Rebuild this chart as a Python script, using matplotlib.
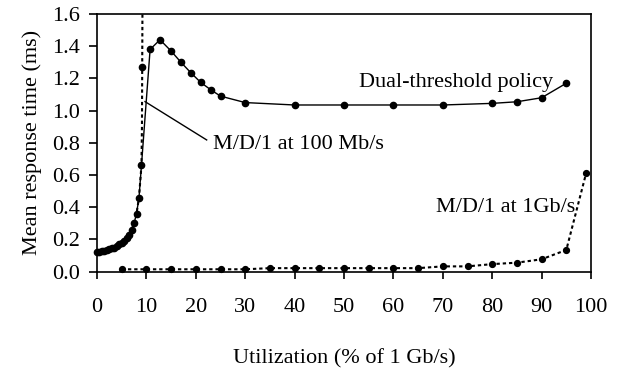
import matplotlib.pyplot as plt
import numpy as np

plt.rcParams['font.family'] = ['Liberation Serif', 'DejaVu Serif']
plt.rcParams['font.size'] = 16

# Dual-threshold policy (simulated)
dual_x = [0, 0.5, 1, 1.5, 2, 2.5, 3, 3.5, 4, 4.5, 5, 5.5, 6, 6.5, 7, 7.5, 8, 8.5, 9,
          10.75, 12.75, 15, 17, 19, 21, 23, 25, 30, 40, 50, 60, 70, 80, 85, 90, 95]
dual_y = [0.12, 0.123, 0.127, 0.13, 0.135, 0.14, 0.145, 0.15, 0.16, 0.17, 0.18, 0.19,
          0.21, 0.23, 0.26, 0.30, 0.36, 0.46, 0.66,
          1.38, 1.44, 1.37, 1.30, 1.235, 1.175, 1.13, 1.09, 1.05,
          1.035, 1.035, 1.035, 1.035, 1.045, 1.055, 1.08, 1.17]

# M/D/1 at 100 Mb/s
md100_x = [0, 1, 2, 3, 4, 5, 6, 7, 7.5, 8, 8.5, 9, 9.1, 9.15, 9.2]
md100_y = [0.12, 0.127, 0.135, 0.146, 0.16, 0.18, 0.21, 0.26, 0.30, 0.36, 0.46,
           0.66, 0.90, 1.27, 1.62]

# M/D/1 at 1 Gb/s
md1g_x = [5, 10, 15, 20, 25, 30, 35, 40, 45, 50, 55, 60, 65, 70, 75, 80, 85, 90, 95, 99]
md1g_y = [0.015, 0.015, 0.015, 0.015, 0.015, 0.015, 0.022, 0.022, 0.022, 0.022,
          0.022, 0.022, 0.022, 0.033, 0.033, 0.047, 0.056, 0.077, 0.135, 0.61]

x_ticks = np.arange(0, 101, 10)
y_ticks = np.arange(0, 1.61, 0.2)


def main():
    fig = plt.figure(figsize=(6.21, 3.70), dpi=100)
    ax = fig.add_axes([0.1562, 0.2657, 0.7955, 0.6965])

    dash = (0, (1.6, 1.4))
    ax.plot(md100_x, md100_y, color='black', lw=1.5, linestyle=dash,
            marker='o', ms=4.5, markevery=[13], clip_on=True)
    ax.plot(md1g_x, md1g_y, color='black', lw=1.5, linestyle=dash,
            marker='o', ms=4.2, clip_on=False)
    ax.plot(dual_x, dual_y, color='black', lw=1.0, marker='o', ms=4.5,
            clip_on=False)

    ax.set_xlim(0, 100)
    ax.set_ylim(0, 1.6)
    ax.set_xticks(x_ticks)
    ax.set_yticks(y_ticks)
    ax.set_yticklabels([f'{v:.1f}' for v in y_ticks])
    ax.tick_params(axis='x', direction='out', length=5, width=1.2, pad=14)
    ax.tick_params(axis='y', direction='out', length=6, width=1.2, pad=6)
    for s in ax.spines.values():
        s.set_linewidth(1.2)

    ax.set_xlabel('Utilization (% of 1 Gb/s)')
    ax.xaxis.set_label_coords(0.5, -0.30)
    ax.set_ylabel('Mean response time (ms)')
    ax.yaxis.set_label_coords(-0.111, 0.5)

    # annotations
    ax.text(92.3, 1.149, 'Dual-threshold policy', ha='right', va='baseline')
    ax.text(23.5, 0.762, 'M/D/1 at 100 Mb/s', ha='left', va='baseline')
    ax.plot([9.72, 22.2], [1.056, 0.818], color='black', lw=1.0)
    ax.text(96.8, 0.373, 'M/D/1 at 1Gb/s', ha='right', va='baseline')

    fig.savefig('out.png', dpi=100)


if __name__ == "__main__":
    main()
